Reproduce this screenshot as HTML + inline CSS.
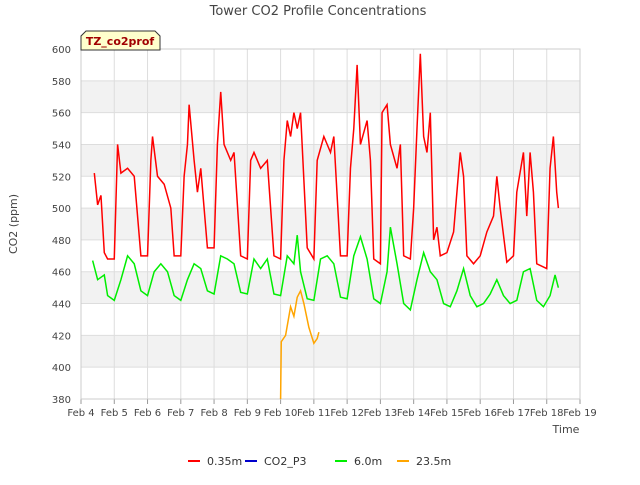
<!DOCTYPE html>
<html><head><meta charset="utf-8"><style>
body{margin:0;background:#fff;font-family:"Liberation Sans","DejaVu Sans",sans-serif}
</style></head><body>
<svg width="640" height="480" xmlns="http://www.w3.org/2000/svg" font-family="DejaVu Sans, Liberation Sans, sans-serif">
<rect width="640" height="480" fill="#fff"/>
<g id="bands"></g><g id="grid"></g><g id="axes"></g><g id="series"></g>
<text x="318" y="15" text-anchor="middle" font-size="13" fill="#444">Tower CO2 Profile Concentrations</text>
<text transform="translate(17,224) rotate(-90)" text-anchor="middle" font-size="11" fill="#444">CO2 (ppm)</text>
<text x="566" y="433" text-anchor="middle" font-size="11" fill="#444">Time</text>
<g>
<path d="M81,50 L81,36 L86,31 L155,31 L160,36 L160,50 Z" fill="#ffffcc" stroke="#333" stroke-width="1"/>
<text x="120" y="45" text-anchor="middle" font-size="11" font-weight="bold" fill="#a00000">TZ_co2prof</text>
</g>
<g id="legend"></g>
</svg>
<script>
const xTickLabels=["Feb 4","Feb 5","Feb 6","Feb 7","Feb 8","Feb 9","Feb 10","Feb 11","Feb 12","Feb 13","Feb 14","Feb 15","Feb 16","Feb 17","Feb 18","Feb 19"];
const yTicks=[380,400,420,440,460,480,500,520,540,560,580,600];
const redT=[4.4,4.5,4.6,4.7,4.8,5.0,5.1,5.2,5.4,5.6,5.8,6.0,6.1,6.15,6.3,6.5,6.7,6.8,7.0,7.1,7.2,7.25,7.4,7.5,7.6,7.8,8.0,8.1,8.2,8.3,8.5,8.6,8.8,9.0,9.1,9.2,9.4,9.6,9.8,10.0,10.1,10.2,10.3,10.4,10.5,10.6,10.8,11.0,11.1,11.3,11.5,11.6,11.8,12.0,12.1,12.2,12.3,12.4,12.6,12.7,12.8,13.0,13.05,13.2,13.3,13.5,13.6,13.7,13.9,14.0,14.1,14.2,14.3,14.4,14.5,14.6,14.7,14.8,15.0,15.2,15.4,15.5,15.6,15.8,16.0,16.2,16.4,16.5,16.6,16.8,17.0,17.1,17.3,17.4,17.5,17.6,17.7,18.0,18.1,18.2,18.3,18.35];
const redV=[522,502,508,472,468,468,540,522,525,520,470,470,530,545,520,515,500,470,470,520,540,565,530,510,525,475,475,540,573,540,530,535,470,468,530,535,525,530,470,468,530,555,545,560,550,560,475,468,530,545,535,545,470,470,525,550,590,540,555,530,468,465,560,565,540,525,540,470,468,500,550,597,545,535,560,480,488,470,472,485,535,520,470,465,470,485,495,520,500,466,470,510,535,495,535,510,465,462,525,545,510,500];
const greenT=[4.35,4.5,4.7,4.8,5.0,5.2,5.4,5.6,5.8,6.0,6.2,6.4,6.6,6.8,7.0,7.2,7.4,7.6,7.8,8.0,8.2,8.4,8.6,8.8,9.0,9.2,9.4,9.6,9.8,10.0,10.2,10.4,10.5,10.6,10.8,11.0,11.2,11.4,11.6,11.8,12.0,12.2,12.4,12.6,12.8,13.0,13.2,13.3,13.5,13.7,13.9,14.1,14.3,14.5,14.7,14.9,15.1,15.3,15.5,15.7,15.9,16.1,16.3,16.5,16.7,16.9,17.1,17.3,17.5,17.7,17.9,18.1,18.25,18.35];
const greenV=[467,455,458,445,442,455,470,465,448,445,460,465,460,445,442,455,465,462,448,446,470,468,465,447,446,468,462,468,446,445,470,465,483,460,443,442,468,470,465,444,443,470,482,468,443,440,460,488,465,440,436,455,472,460,455,440,438,448,462,445,438,440,446,455,445,440,442,460,462,442,438,445,458,450];
const orangeT=[10.0,10.02,10.15,10.3,10.4,10.5,10.6,10.7,10.85,11.0,11.1,11.15];
const orangeV=[380,416,420,438,432,444,448,440,425,415,418,422];
const X0=81,X1=580,Y0=399,Y1=49;
const xs=d=>X0+(d-4)/15*(X1-X0);
const ys=v=>Y0-(v-380)/220*(Y0-Y1);
const NS="http://www.w3.org/2000/svg";
function mk(tag,attrs,parent){const e=document.createElementNS(NS,tag);for(const k in attrs)e.setAttribute(k,attrs[k]);document.getElementById(parent).appendChild(e);return e;}
for(let i=0;i<yTicks.length-1;i++){if(i%2===1){const r=mk('rect',{x:X0,y:ys(yTicks[i+1]),width:X1-X0,height:ys(yTicks[i])-ys(yTicks[i+1]),fill:'#f2f2f2'},'bands');

}}
yTicks.forEach(v=>{const l=mk('line',{x1:X0,x2:X1,y1:ys(v),y2:ys(v),stroke:'#ddd'},'grid');


const t=mk('text',{x:X0-10,y:ys(v)+4,'text-anchor':'end','font-size':'10',fill:'#444'},'axes');t.textContent=v;

});
xTickLabels.forEach((s,i)=>{const x=xs(4+i);const l=mk('line',{x1:x,x2:x,y1:Y1,y2:Y0,stroke:'#ddd'},'grid');


mk('line',{x1:x,x2:x,y1:Y0,y2:Y0+5,stroke:'#999'},'axes');
const t=mk('text',{x:x,y:Y0+17,'text-anchor':'middle','font-size':'10',fill:'#444'},'axes');t.textContent=s;

});
const fr=mk('rect',{x:X0,y:Y1,width:X1-X0,height:Y0-Y1,fill:'none',stroke:'#ccc'},'axes');


function line(T,V,color,name){const p=mk('polyline',{points:T.map((t,i)=>xs(t)+','+ys(V[i])).join(' '),fill:'none',stroke:color,'stroke-width':'1.5'},'series');

}
line(greenT,greenV,'#00ee00','series-6m');
line(redT,redV,'#ff0000','series-0.35m');
line(orangeT,orangeV,'#ffa500','series-23.5m');
const leg=[["0.35m","#ff0000",188],["CO2_P3","#0000cc",245],["6.0m","#00ee00",335],["23.5m","#ffa500",397]];
leg.forEach(([n,c,x])=>{const l=mk('line',{x1:x,x2:x+12,y1:461,y2:461,stroke:c,'stroke-width':'2'},'legend');


const t=mk('text',{x:x+19,y:465,'font-size':'11',fill:'#333'},'legend');t.textContent=n;

});
</script>
</body></html>
